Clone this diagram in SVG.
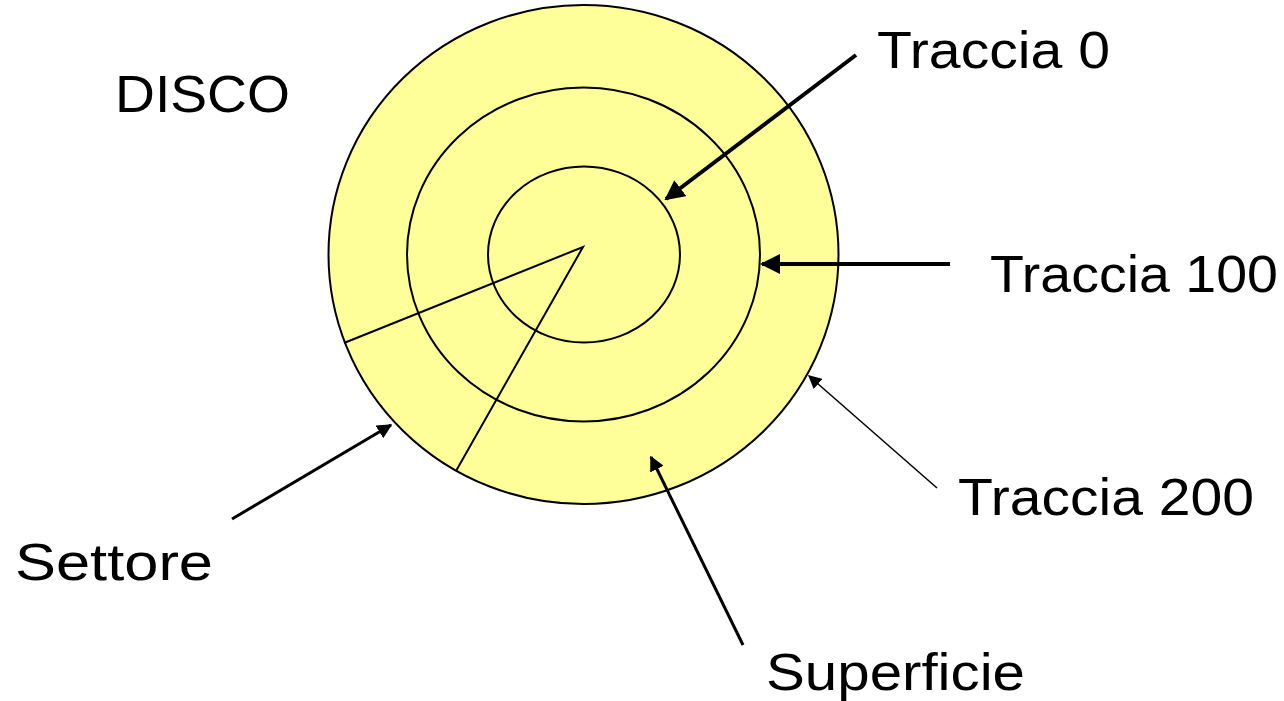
<svg xmlns="http://www.w3.org/2000/svg" width="1284" height="701" viewBox="0 0 1284 701">
<defs>
<style>
.disk{fill:#FFFF99;stroke:#000;stroke-width:2}
.ring{fill:none;stroke:#000;stroke-width:2}
.lbl{font-family:"Liberation Sans",Arial,sans-serif;font-size:52px;fill:#000}
.arr{stroke:#000;fill:none}
</style>
<marker id="ah" viewBox="0 0 10 10" refX="9" refY="5" markerWidth="5" markerHeight="5" markerUnits="strokeWidth" orient="auto">
<path d="M0,0 L10,5 L0,10 z" fill="#000"/>
</marker>
<marker id="ahs" viewBox="0 0 10 10" refX="9" refY="5" markerWidth="9" markerHeight="9" markerUnits="strokeWidth" orient="auto">
<path d="M0,0 L10,5 L0,10 z" fill="#000"/>
</marker>
</defs>
<rect width="1284" height="701" fill="#fff"/>
<g id="disk">
<ellipse class="disk" cx="583.5" cy="254.5" rx="255" ry="249.5"/>
<ellipse class="ring" cx="583.5" cy="254.5" rx="176.5" ry="167"/>
<ellipse class="ring" cx="584" cy="254.5" rx="96" ry="88"/>
<polyline class="ring" points="344,343 583,247 456,471"/>
</g>
<g id="connectors">
<line class="arr" x1="856" y1="55" x2="666" y2="199" stroke-width="4" marker-end="url(#ah)"/>
<line class="arr" x1="950" y1="264" x2="762" y2="264" stroke-width="4" marker-end="url(#ah)"/>
<line class="arr" x1="937" y1="488" x2="809" y2="376" stroke-width="1.5" marker-end="url(#ahs)"/>
<line class="arr" x1="232" y1="519" x2="391" y2="425" stroke-width="3" marker-end="url(#ah)"/>
<line class="arr" x1="743" y1="645" x2="651" y2="457" stroke-width="3" marker-end="url(#ah)"/>
</g>
<g id="labels">
<text id="lbl-disco" class="lbl" x="115" y="112" textLength="175" lengthAdjust="spacingAndGlyphs">DISCO</text>
<text id="lbl-t0" class="lbl" x="877" y="68" textLength="233" lengthAdjust="spacingAndGlyphs">Traccia 0</text>
<text id="lbl-t100" class="lbl" x="990" y="292" textLength="288" lengthAdjust="spacingAndGlyphs">Traccia 100</text>
<text id="lbl-t200" class="lbl" x="958" y="515" textLength="296" lengthAdjust="spacingAndGlyphs">Traccia 200</text>
<text id="lbl-settore" class="lbl" x="15" y="580" textLength="198" lengthAdjust="spacingAndGlyphs">Settore</text>
<text id="lbl-superficie" class="lbl" x="766" y="690" textLength="259" lengthAdjust="spacingAndGlyphs">Superficie</text>
</g>
</svg>
